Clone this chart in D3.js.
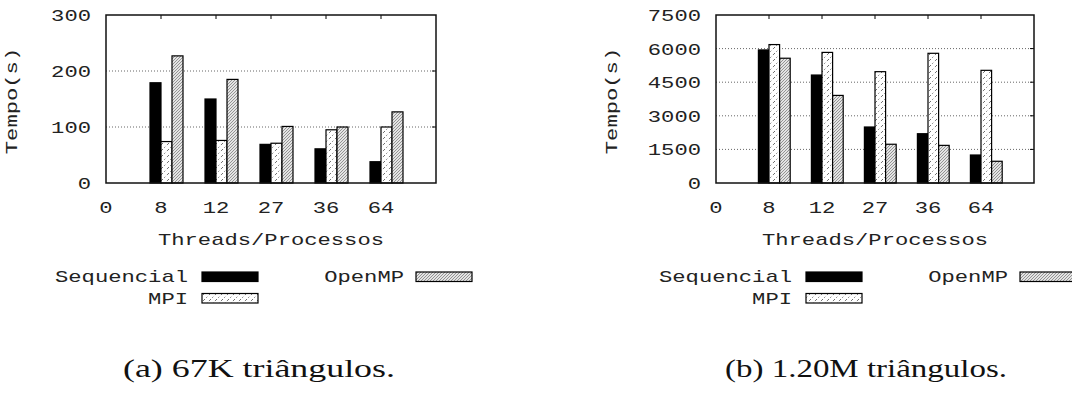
<!DOCTYPE html>
<html>
<head>
<meta charset="utf-8">
<script src="https://cdn.jsdelivr.net/npm/d3@7"></script>
<style>
	body { margin: 0; background: #fff; }
	.mono { font-family: "Liberation Mono", "DejaVu Sans Mono", monospace; font-size: 17px; fill: #222; }
	.cap { font-family: "Liberation Serif", "DejaVu Serif", serif; font-size: 25px; fill: #111; }
</style>
</head>
<body>
<svg id="fig" width="1072" height="396"></svg>
<script>
/*
** Two clustered bar charts: run time per thread/process count.
*/

// shared categories and series
var categories = ["8", "12", "27", "36", "64"];
var seriesNames = ["Sequencial", "MPI", "OpenMP"];

// (a) 67K triangles
var seqA = [179, 150, 69, 61, 38];
var mpiA = [74, 76, 71, 95, 100];
var ompA = [227, 185, 101, 100, 127];
var yTicksA = [0, 100, 200, 300];

// (b) 1.20M triangles
var seqB = [5940, 4820, 2500, 2200, 1250];
var mpiB = [6180, 5830, 4970, 5790, 5030];
var ompB = [5570, 3910, 1730, 1680, 970];
var yTicksB = [0, 1500, 3000, 4500, 6000, 7500];

var svg = d3.select("#fig");
var adv = 13.3; // monospace advance, the figure is stretched sideways

var defs = svg.append("defs");

// MPI fill: white with dotted diagonals
var pm = defs.append("pattern")
	.attr("id", "patMPI")
	.attr("patternUnits", "userSpaceOnUse")
	.attr("width", 6).attr("height", 6);
pm.append("rect").attr("width", 6).attr("height", 6).attr("fill", "#fff");
pm.append("path")
	.attr("d", "M0,6 L6,0")
	.attr("stroke", "#333")
	.attr("stroke-width", 1)
	.attr("stroke-dasharray", "1,2.5");

// OpenMP fill: grey hatching
var po = defs.append("pattern")
	.attr("id", "patOMP")
	.attr("patternUnits", "userSpaceOnUse")
	.attr("width", 3).attr("height", 3);
po.append("rect").attr("width", 3).attr("height", 3).attr("fill", "#e4e4e4");
po.append("path")
	.attr("d", "M-1,4 L4,-1")
	.attr("stroke", "#8a8a8a")
	.attr("stroke-width", 0.9);

var fills = ["#000", "url(#patMPI)", "url(#patOMP)"];

/*
** Monospace text stretched to the width the figure shows.
*/
function monoText(g, str, x, y, anchor) {
	return g.append("text")
		.attr("class", "mono")
		.attr("x", x)
		.attr("y", y)
		.attr("text-anchor", anchor)
		.attr("textLength", str.length * adv)
		.attr("lengthAdjust", "spacingAndGlyphs")
		.text(str);
}

/*
** Draws one panel.
*/
function drawChart(o) {
	var g = svg.append("g");
	var x = d3.scaleLinear().domain([0, categories.length + 1]).range([o.x0, o.x1]);
	var y = d3.scaleLinear().domain([0, d3.max(o.yTicks)]).range([o.y1, o.y0]);
	var step = x(1) - x(0);
	var w = step * 0.2;

	// dotted grid
	g.selectAll("line.grid")
		.data(o.yTicks.slice(1, -1))
		.enter()
		.append("line")
			.attr("x1", o.x0).attr("x2", o.x1)
			.attr("y1", function(d) {return y(d);})
			.attr("y2", function(d) {return y(d);})
			.attr("stroke", "#666")
			.attr("stroke-width", 1)
			.attr("stroke-dasharray", "1,2");

	// bars
	var series = [o.seq, o.mpi, o.omp];
	series.forEach(function(vals, j) {
		g.selectAll("rect.s" + j)
			.data(vals)
			.enter()
			.append("rect")
				.attr("x", function(d, i) {return x(i + 1) + (j - 1) * w;})
				.attr("y", function(d) {return y(d);})
				.attr("width", w)
				.attr("height", function(d) {return y(0) - y(d);})
				.attr("fill", fills[j])
				.attr("stroke", "#000")
				.attr("stroke-width", 1.2);
	});

	// mirror ticks
	var xt = d3.range(1, categories.length + 1);
	g.selectAll("line.xt")
		.data(xt)
		.enter()
		.append("line")
			.attr("x1", function(d) {return x(d);})
			.attr("x2", function(d) {return x(d);})
			.attr("y1", o.y0).attr("y2", o.y0 + 4)
			.attr("stroke", "#000");
	g.selectAll("line.yt")
		.data(o.yTicks.slice(1, -1))
		.enter()
		.append("line")
			.attr("x1", o.x1 - 4).attr("x2", o.x1)
			.attr("y1", function(d) {return y(d);})
			.attr("y2", function(d) {return y(d);})
			.attr("stroke", "#000");

	// frame
	g.append("rect")
		.attr("x", o.x0).attr("y", o.y0)
		.attr("width", o.x1 - o.x0).attr("height", o.y1 - o.y0)
		.attr("fill", "none")
		.attr("stroke", "#111")
		.attr("stroke-width", 1.5);

	// tick labels
	o.yTicks.forEach(function(t) {
		monoText(g, String(t), o.x0 - 15, y(t) + 6, "end");
	});
	var xl = ["0"].concat(categories);
	xl.forEach(function(lbl, i) {
		monoText(g, lbl, x(i), 213, "middle");
	});

	// axis titles
	monoText(g, "Threads/Processos", (o.x0 + o.x1) / 2, 245, "middle");
	monoText(g, "Tempo(s)", 0, 0, "middle")
		.attr("transform", "translate(" + (o.x0 - o.ylabGap) + ",101) rotate(-90)");

	// legend
	var lg = [
		{name: seriesNames[0], tx: o.legX1, bx: o.legX1 + 14, y: 272},
		{name: seriesNames[1], tx: o.legX1, bx: o.legX1 + 14, y: 293.5},
		{name: seriesNames[2], tx: o.legX2, bx: o.legX2 + 12, y: 272}
	];
	lg.forEach(function(d, j) {
		monoText(g, d.name, d.tx, d.y + 10, "end");
		g.append("rect")
			.attr("x", d.bx).attr("y", d.y)
			.attr("width", 56).attr("height", 9.5)
			.attr("fill", fills[j])
			.attr("stroke", "#000")
			.attr("stroke-width", 1.2);
	});

	// caption
	g.append("text")
		.attr("class", "cap")
		.attr("x", o.capX)
		.attr("y", 377)
		.attr("textLength", o.capW)
		.attr("lengthAdjust", "spacingAndGlyphs")
		.text(o.caption);
}

drawChart({
	x0: 106, x1: 436, y0: 15, y1: 183,
	seq: seqA, mpi: mpiA, omp: ompA, yTicks: yTicksA,
	ylabGap: 89, legX1: 188, legX2: 404,
	caption: "(a) 67K triângulos.", capX: 123, capW: 272
});

drawChart({
	x0: 716, x1: 1034, y0: 15, y1: 183,
	seq: seqB, mpi: mpiB, omp: ompB, yTicks: yTicksB,
	ylabGap: 99, legX1: 792, legX2: 1008,
	caption: "(b) 1.20M triângulos.", capX: 725, capW: 282
});
</script>
</body>
</html>
